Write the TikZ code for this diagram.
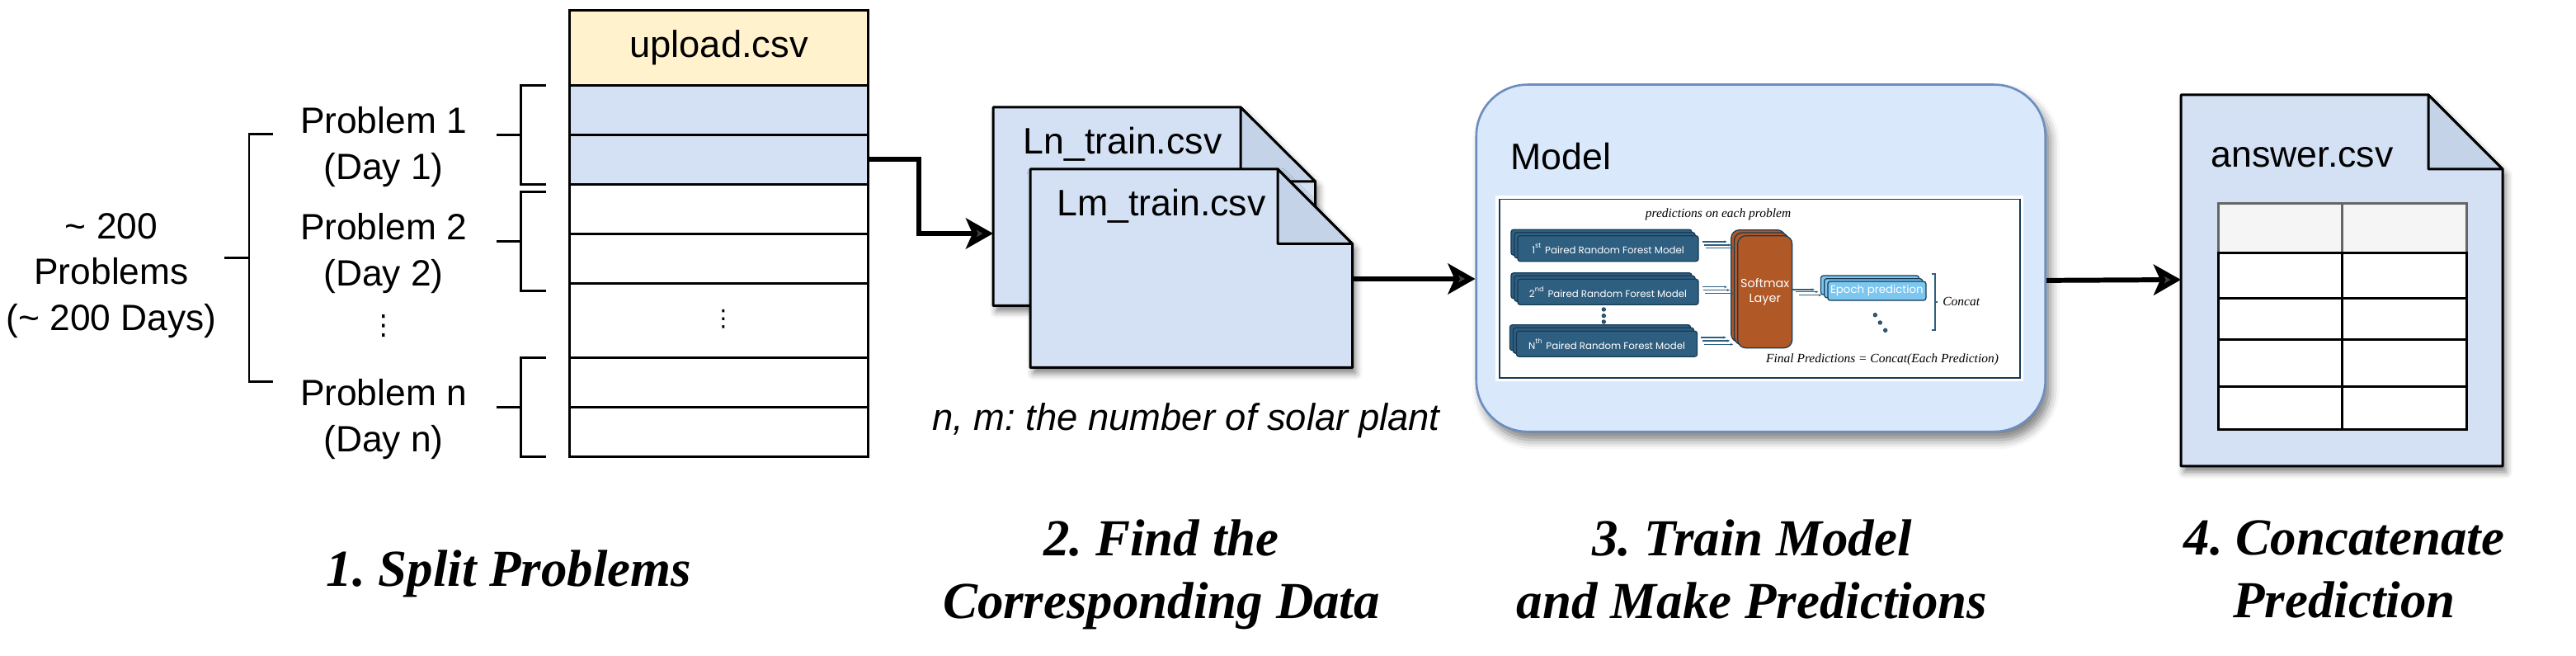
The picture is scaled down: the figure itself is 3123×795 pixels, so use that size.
\documentclass[tikz,border=0pt]{standalone}
\usepackage{fontspec}
\setmainfont{Liberation Sans}
\newfontfamily\capfont{Liberation Serif}
\newfontfamily\slidefont{Poppins}
\newfontfamily\dotsfont{DejaVu Sans}
\usetikzlibrary{
    arrows.meta,
    positioning,
    backgrounds,
    fit,
    calc,
    shadows.blur
}
\definecolor{filecol}{HTML}{D4E1F5}
\definecolor{foldcol}{HTML}{C5D3E8}
\definecolor{headcol}{HTML}{FFF2CC}
\definecolor{modelcol}{HTML}{DAE8FC}
\definecolor{modeledge}{HTML}{6C8EBF}
\definecolor{forestcol}{HTML}{2F5F80}
\definecolor{softcol}{HTML}{B15827}
\definecolor{epochcol}{HTML}{7CC6F0}
\definecolor{inkcol}{HTML}{173A55}
\AtBeginDocument{\frenchspacing}

\begin{document}
\begin{tikzpicture}[
    x=0.01cm,
    y=-0.01cm,
    % Text
    label/.style={
        font=\fontsize{12.6}{15.7}\selectfont,
        align=center
    },
    filename/.style={
        font=\fontsize{12.7}{15}\selectfont
    },
    stage/.style={
        font=\capfont\bfseries\itshape\fontsize{17.9}{21.6}\selectfont,
        align=center
    },
    slidenote/.style={
        font=\capfont\itshape\fontsize{4.4}{6}\selectfont,
        text=black
    },
    % Table of the upload file
    row/.style={
        draw=black,
        line width=0.85pt,
        fill=white,
        minimum width=3.61cm,
        minimum height=0.6cm,
        inner sep=0pt,
        outer sep=0pt
    },
    softshadow/.style={
        blur shadow={shadow xshift=0.04cm, shadow yshift=-0.07cm,
            shadow blur radius=0.08cm, shadow opacity=50}
    },
    bracket/.style={
        line width=0.85pt
    },
    mainflow/.style={
        -{Stealth[length=0.33cm, width=0.37cm, inset=0.08cm]},
        line width=1.7pt
    },
    % Files
    sheet/.style={
        draw=black,
        line width=0.85pt,
        fill=filecol,
        line join=round
    },
    fold/.style={
        draw=black,
        line width=0.85pt,
        fill=foldcol,
        line join=round
    },
    % Small picture inside the model box
    forestbox/.style={
        draw=inkcol,
        line width=0.35pt,
        fill=forestcol,
        rounded corners=0.03cm,
        minimum width=2.19cm,
        minimum height=0.31cm,
        inner sep=0pt,
        text=white,
        font=\slidefont\fontsize{3.35}{4}\selectfont
    },
    softbox/.style={
        draw=inkcol,
        line width=0.35pt,
        fill=softcol,
        rounded corners=0.1cm,
        minimum width=0.66cm,
        minimum height=1.36cm,
        inner sep=0pt
    },
    epochbox/.style={
        draw=inkcol,
        line width=0.35pt,
        fill=epochcol,
        rounded corners=0.03cm,
        minimum width=1.19cm,
        minimum height=0.23cm,
        inner sep=0pt,
        text=white,
        font=\slidefont\fontsize{3.8}{4}\selectfont
    },
    pipe/.style={
        -{Stealth[length=0.035cm, width=0.03cm]},
        draw=forestcol,
        line width=0.4pt
    },
    blob/.style={
        circle,
        fill=forestcol,
        draw=inkcol,
        line width=0.2pt,
        minimum size=0.045cm,
        inner sep=0pt
    }
]
    \useasboundingbox (0,0) rectangle (3123,795);

    % The upload table, row below row
    \node[row, fill=headcol, minimum height=0.9cm] (rowh) at (871.5,58) {\raisebox{-0.09cm}{\fontsize{12.9}{15}\selectfont upload.csv}};
    \node[row, fill=filecol, below=0pt of rowh] (rowa) {};
    \node[row, fill=filecol, below=0pt of rowa] (rowb) {};
    \node[row, below=0pt of rowb] (rowc) {};
    \node[row, below=0pt of rowc] (rowd) {};
    \node[row, minimum height=0.9cm, below=0pt of rowd] (rowe) {};
    \node[row, below=0pt of rowe] (rowf) {};
    \node[row, below=0pt of rowf] (rowg) {};
    \node[font=\dotsfont\fontsize{8}{9}\selectfont] (rowdots) at (877,387) {⋮};

    \begin{scope}[on background layer]
        \node[softshadow, fill=white, inner sep=0pt, fit=(rowh)(rowg)] (tableback) {};
    \end{scope}

    % Problem labels
    \node[label] (prob1) at (465,178) {Problem 1\\(Day 1)};
    \node[label] (prob2) at (465,307) {Problem 2\\(Day 2)};
    \node[font=\dotsfont\fontsize{9.5}{10}\selectfont] (probdots) at (465,395) {⋮};
    \node[label] (probn) at (465,508) {Problem n\\(Day n)};
    \node[label] (allprob) at (135,334) {\textasciitilde{} 200\\Problems\\(\textasciitilde{} 200 Days)};

    % Brackets from the rows to the labels
    \foreach \first/\last/\drop in {rowa/rowb/0cm, rowc/rowd/-0.09cm, rowf/rowg/0cm} {
        \coordinate (top) at ([shift={(-0.29cm,\drop)}]\first.north west);
        \coordinate (bot) at ([shift={(-0.29cm,\drop)}]\last.south west);
        \draw[bracket] (top) -- ++(-30,0) coordinate (topleft) |- (bot);
        \draw[bracket] ($(topleft)!0.5!(topleft |- bot)$) -- ++(-30,0);
    }
    \coordinate (outertop) at (331,163);
    \coordinate (outerbot) at (331,463);
    \draw[bracket] (outertop) -- ++(-29,0) coordinate (outerleft) |- (outerbot);
    \draw[bracket] ($(outerleft)!0.5!(outerleft |- outerbot)$) -- ++(-30,0);

    % The two train files
    \path[sheet, softshadow] (1204,130) -- (1504,130) -- (1594.5,220) -- (1594.5,370.5) -- (1204,370.5) -- cycle;
    \path[fold] (1504,130) -- (1594.5,220) -- (1504,220) -- cycle;
    \node[filename] (lnfile) at (1361,175) {Ln\_train.csv};
    \path[sheet, softshadow] (1249,205) -- (1549,205) -- (1639.5,295.5) -- (1639.5,445.5) -- (1249,445.5) -- cycle;
    \path[fold] (1549,205) -- (1639.5,295.5) -- (1549,295.5) -- cycle;
    \node[filename] (lmfile) at (1408,250) {Lm\_train.csv};
    \node[font=\itshape\fontsize{12.9}{15}\selectfont] (plantnote) at (1438,510) {n, m: the number of solar plant};
    \coordinate (lnport) at (1204,283);
    \coordinate (lmport) at (1639.5,338);

    % Model box
    \node[draw=modeledge, fill=modelcol, line width=0.75pt, rounded corners=0.62cm,
        blur shadow={shadow xshift=0.06cm, shadow yshift=-0.1cm, shadow blur radius=0.11cm, shadow opacity=50},
        minimum width=6.895cm, minimum height=4.203cm] (model) at (2134.75,312.85) {};
    \node[filename, anchor=west, inner sep=0pt] (modeltitle) at (1831,190) {Model};
    \node[fill=white, minimum width=6.396cm, minimum height=2.247cm, inner sep=0pt] (shot) at (2133.2,349.35) {};
    \node[draw=inkcol, line width=0.4pt, minimum width=6.306cm, minimum height=2.163cm, inner sep=0pt] (shotframe) at (2133.3,349.85) {};
    \node[slidenote] (shotnote) at (2083,260) {predictions on each problem};

    % Stacks of forests
    \foreach \fname/\ypos/\xpos/\ftext in {
        forest1/301.2/1949.5/1\textsuperscript{st},
        forest2/353.8/1949.5/2\textsuperscript{nd},
        forest3/416.7/1948/N\textsuperscript{th}} {
        \node[forestbox] (\fname a) at (\xpos-8,\ypos-7.5) {};
        \node[forestbox] (\fname b) at (\xpos-4,\ypos-4) {};
        \node[forestbox] (\fname) at (\xpos,\ypos) {\ftext{} Paired Random Forest Model};
    }

    % Softmax stack
    \node[softbox] (softa) at (2131.7,346.7) {};
    \node[softbox] (softb) at (2135.4,350) {};
    \node[softbox, align=center, text=white, font=\slidefont\fontsize{4.1}{4.95}\selectfont] (softc) at (2139.7,353.7) {Softmax\\Layer};

    % Epoch stack
    \node[epochbox] (epocha) at (2267,345.6) {};
    \node[epochbox] (epochb) at (2271.2,349.2) {};
    \node[epochbox] (epochc) at (2275.4,352.6) {Epoch prediction};

    % Little arrows
    \foreach \from/\ds/\dy/\len in {
        forest1/4/-8.3/30, forest1/6/-4.3/33, forest1/8/-0.7/35,
        forest2/4/-6/30, forest2/5.5/-2.3/32, forest2/7.5/2/36,
        forest3/3.5/-7.7/31, forest3/6/-3.7/33, forest3/8/0.7/35,
        softc/-0.3/-2.7/27, softc/4/0/27, softc/8/4/27} {
        \draw[pipe] ([shift={(\ds,\dy)}]\from.east) -- ++(\len,0);
    }

    % Dots and the concat bracket
    \foreach \dotname/\xpos/\ypos in {
        va/1944.3/375, vb/1944.3/382.7, vc/1944.3/390,
        da/2273.3/381.7, db/2279.3/391, dc/2285.7/400.3} {
        \node[blob] (\dotname) at (\xpos,\ypos) {};
    }
    \coordinate (concattop) at (2342.3,332);
    \coordinate (concatbot) at (2342.3,400.3);
    \draw[draw=forestcol, line width=0.45pt] (concattop) -- ++(3.4,0) coordinate (concatedge) |- (concatbot);
    \draw[draw=forestcol, line width=0.45pt] ($(concatedge)!0.5!(concatedge |- concatbot)$) -- ++(3.4,0);
    \node[slidenote] (concatnote) at (2377.7,365.3) {Concat};
    \node[slidenote] (finalnote) at (2282,435.3) {Final Predictions = Concat(Each Prediction)};

    % Answer file with its table
    \path[sheet, softshadow] (2644,115) -- (2944,115) -- (3034,205) -- (3034,565) -- (2644,565) -- cycle;
    \path[fold] (2944,115) -- (3034,205) -- (2944,205) -- cycle;
    \node[filename, anchor=west, inner sep=0pt] (answertitle) at (2680,191) {answer.csv};
    \coordinate (answerport) at (2644,339);
    \draw[draw=black!60, fill=black!4, line width=0.85pt] (2689,246.7) rectangle (2839,306.7);
    \draw[draw=black!60, fill=black!4, line width=0.85pt] (2839,246.7) rectangle (2990,306.7);
    \foreach \ytop/\ybot in {306.7/361.7, 361.7/412, 412/469, 469/520.7} {
        \draw[fill=white, line width=0.85pt] (2689,\ytop) rectangle (2839,\ybot);
        \draw[fill=white, line width=0.85pt] (2839,\ytop) rectangle (2990,\ybot);
    }

    % Flowing main arrows
    \draw[mainflow] (rowb.east) -- ++(62,0) |- (lnport);
    \draw[mainflow] (lmport) -- (model.west |- lmport);
    \draw[mainflow] ([yshift=-0.27cm]model.east) -- (answerport);

    % Stage titles
    \node[stage] (stage1) at (617,695) {1. Split Problems};
    \node[stage] (stage2) at (1408,696) {2. Find the\\Corresponding Data};
    \node[stage] (stage3) at (2124,690) {3. Train Model\\and Make Predictions};
    \node[stage] (stage4) at (2842,690) {4. Concatenate\\Prediction};
\end{tikzpicture}
\end{document}
